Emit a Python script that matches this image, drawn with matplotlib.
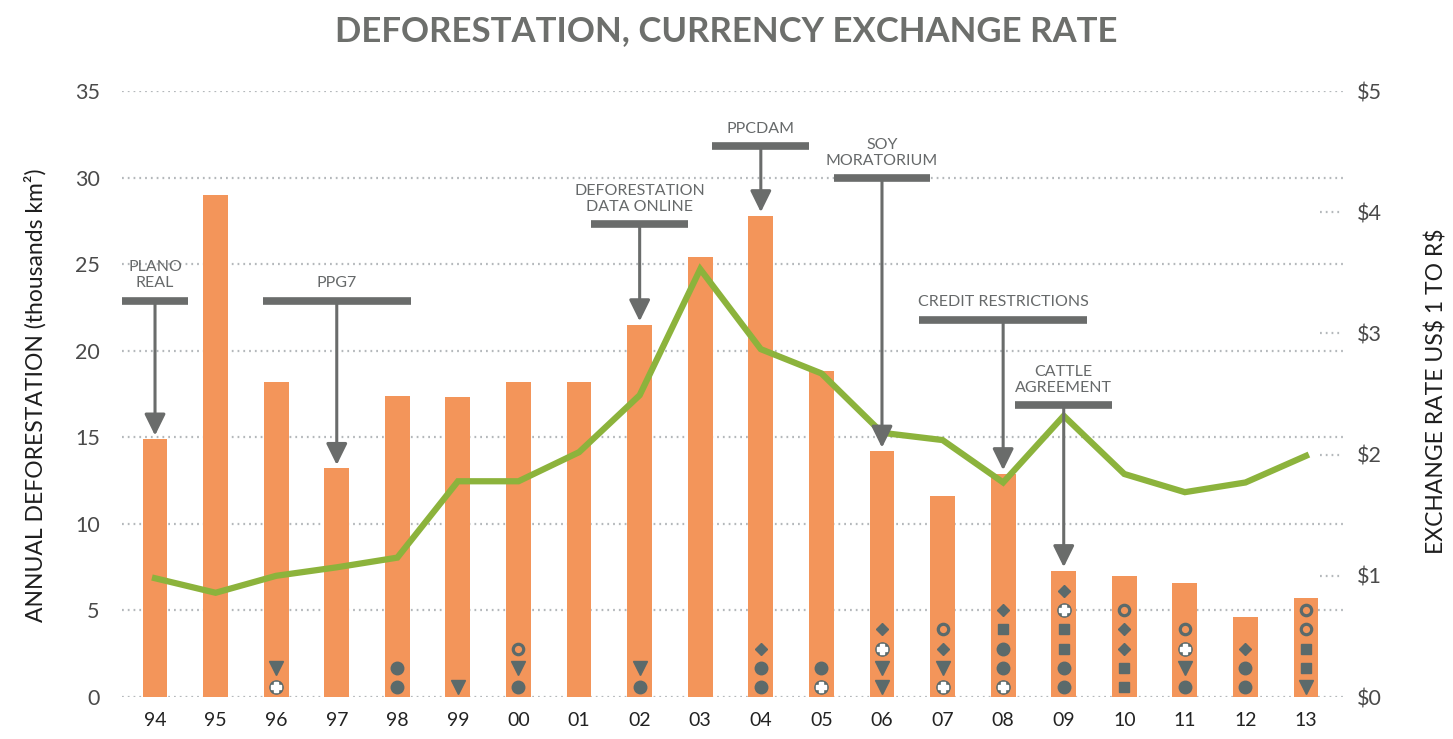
import numpy as np
import matplotlib
matplotlib.use("Agg")
import matplotlib.pyplot as plt

plt.rcParams['font.family'] = ['Lato', 'DejaVu Sans']

years = ['94', '95', '96', '97', '98', '99', '00', '01', '02', '03',
         '04', '05', '06', '07', '08', '09', '10', '11', '12', '13']
deforestation = [14.9, 29.0, 18.2, 13.2, 17.4, 17.3, 18.2, 18.2, 21.5, 25.4,
                 27.8, 18.8, 14.2, 11.6, 12.9, 7.3, 7.0, 6.6, 4.6, 5.7]
exchange_rate = [0.98, 0.86, 1.00, 1.07, 1.15, 1.78, 1.78, 2.02, 2.49, 3.53,
                 2.87, 2.67, 2.18, 2.12, 1.77, 2.32, 1.84, 1.69, 1.77, 1.99]

# policy icons per year, bottom to top
# c = circle, v = triangle, o = ring, D = diamond, s = square, + = circled plus
year_icons = [[], [], ['+', 'v'], [], ['c', 'c'], ['v'], ['c', 'v', 'o'], [],
              ['c', 'v'], [], ['c', 'c', 'D'], ['+', 'c'], ['v', 'v', '+', 'D'],
              ['+', 'v', 'D', 'o'], ['+', 'c', 'c', 's', 'D'],
              ['c', 'c', 's', 's', '+', 'D'], ['s', 's', 'D', 'D', 'o'],
              ['c', 'v', '+', 'o'], ['c', 'c', 'D'], ['v', 's', 's', 'o', 'o']]

events = ['PLANO\nREAL', 'PPG7', 'DEFORESTATION\nDATA ONLINE', 'PPCDAM',
          'SOY\nMORATORIUM', 'CREDIT RESTRICTIONS', 'CATTLE\nAGREEMENT']
event_years = ['94', '97', '02', '04', '06', '08', '09']
event_levels = [22.9, 22.9, 27.3, 31.8, 29.95, 21.8, 16.85]
event_halfspan = [0.55, 1.22, 0.8, 0.8, 0.8, 1.39, 0.8]

orange = '#f3955a'
green = '#8cb33c'
gray = '#6a6c6b'
icon = '#5b6a6b'
grid_col = '#b4b8bb'
dots = (0, (0.8, 1.8))

fig = plt.figure(figsize=(14.53, 7.39), dpi=100)
ax = fig.add_axes([122/1453, 42/739, 1221/1453, 606/739])
x = np.arange(len(years))

ax.bar(x, deforestation, width=0.41, color=orange, zorder=2)
ax.set_xlim(-0.545, 19.61)
ax.set_ylim(0, 35)
ax.set_yticks(range(0, 36, 5))
ax.set_xticks(x, years)
ax.yaxis.grid(True, linestyle=dots, color=grid_col, lw=1.6)
ax.set_axisbelow(True)
for s in ax.spines.values():
    s.set_visible(False)
ax.tick_params(length=0)
ax.tick_params(axis='x', pad=11, labelsize=14, labelcolor='#222222')
ax.tick_params(axis='y', pad=16, labelsize=15.5, labelcolor='#4a4a4a')

# icons
for i, codes in enumerate(year_icons):
    for j, c in enumerate(codes):
        y = 0.6 + 1.1 * j
        if c == 'c':
            ax.plot(i, y, 'o', ms=9, color=icon, zorder=3)
        elif c == 'v':
            ax.plot(i, y, 'v', ms=9.5, color=icon, zorder=3)
        elif c == 'D':
            ax.plot(i, y, 'D', ms=6.5, color=icon, zorder=3)
        elif c == 's':
            ax.plot(i, y, 's', ms=7.5, color=icon, zorder=3)
        elif c == 'o':
            ax.plot(i, y, 'o', ms=7.5, mfc='none', mec=icon, mew=2.3, zorder=3)
        elif c == '+':
            ax.plot(i, y, 'o', ms=9.5, color=icon, zorder=3)
            ax.plot(i, y, 'P', ms=6.5, color='white', zorder=4)

ax2 = ax.twinx()
ax2.set_ylim(0, 5)
ax2.plot(x, exchange_rate, color=green, lw=4.5, solid_joinstyle='miter', zorder=3)
ax2.set_yticks(range(6), ['$%d' % v for v in range(6)])
for s in ax2.spines.values():
    s.set_visible(False)
ax2.tick_params(length=0, pad=10, labelsize=15.5, labelcolor='#4a4a4a')
ax2.hlines(range(1, 5), 0.981, 1.0, transform=ax2.get_yaxis_transform(),
           linestyle=dots, color=grid_col, lw=1.6)

# event annotations
for name, yr, lvl, hs in zip(events, event_years, event_levels, event_halfspan):
    i = years.index(yr)
    ax2.plot([i - hs, i + hs], [lvl, lvl], transform=ax.transData, color=gray,
             lw=5.5, solid_capstyle='butt', zorder=5)
    ax2.annotate('', xy=(i, deforestation[i] + 0.2), xytext=(i, lvl),
                 xycoords=ax.transData, textcoords=ax.transData,
                 arrowprops=dict(arrowstyle='-|>,head_length=0.65,head_width=0.32',
                                 color=gray, lw=2.2, shrinkA=0, shrinkB=0,
                                 mutation_scale=20), zorder=5)
    ax2.annotate(name, xy=(i, lvl), xycoords=ax.transData, xytext=(0, 7.5),
                 textcoords='offset points', ha='center', va='bottom',
                 fontsize=11.5, color='#66696a', linespacing=1.15, zorder=6)

fig.text(0.5, 1 - 31/739, 'DEFORESTATION, CURRENCY EXCHANGE RATE', ha='center',
         va='center', fontsize=25, fontweight='bold', color='#6d6f6c')
fig.text(35/1453, 1 - 395/739, 'ANNUAL DEFORESTATION (thousands km²)', rotation=90,
         ha='center', va='center', fontsize=16.5, color='#1e1e1e')
fig.text(1437/1453, 1 - 391/739, r'EXCHANGE RATE US\$ 1 TO R\$', rotation=90,
         ha='center', va='center', fontsize=16.5, color='#1e1e1e')

fig.savefig('out.png', dpi=100)
